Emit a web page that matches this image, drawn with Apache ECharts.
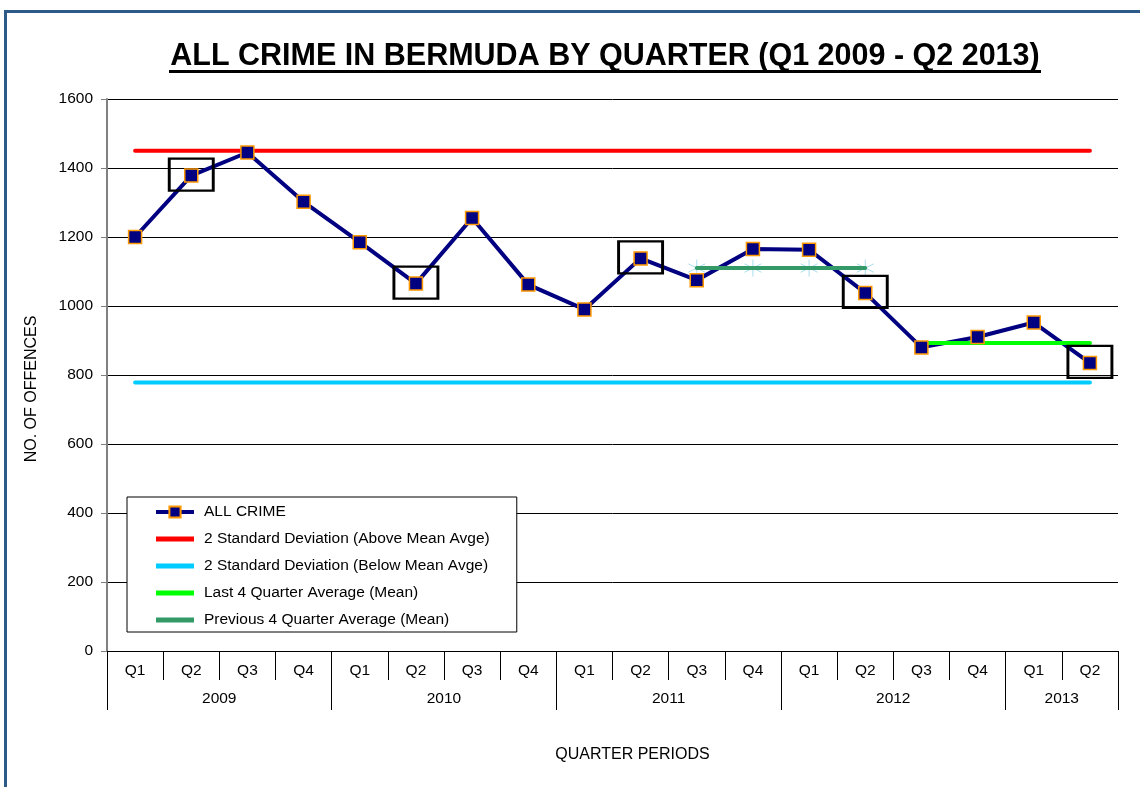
<!DOCTYPE html>
<html lang="en">
<head>
<meta charset="utf-8">
<script src="https://cdn.jsdelivr.net/npm/echarts@6/dist/echarts.min.js"></script>
<style>
    html, body { margin: 0; padding: 0; background: #fff; }
    #main { width: 1140px; height: 787px; }
</style>
</head>
<body>
<div id="main"></div>
<script>
    var FONT = '"Liberation Sans", Arial, sans-serif';

    // categories
    var quarters = ['Q1','Q2','Q3','Q4','Q1','Q2','Q3','Q4','Q1','Q2','Q3','Q4','Q1','Q2','Q3','Q4','Q1','Q2'];
    var years = ['2009','2009','2009','2009','2010','2010','2010','2010','2011','2011','2011','2011',
                 '2012','2012','2012','2012','2013','2013'];
    var yTicks = [0, 200, 400, 600, 800, 1000, 1200, 1400, 1600];

    // series values
    var allCrime = [1200, 1378, 1445, 1302, 1185, 1065, 1255, 1062, 990, 1138, 1075, 1165, 1163, 1038, 880, 910, 952, 835];
    var upperLimit = [1450, 1450, 1450, 1450, 1450, 1450, 1450, 1450, 1450, 1450, 1450, 1450, 1450, 1450, 1450, 1450, 1450, 1450];
    var lowerLimit = [778, 778, 778, 778, 778, 778, 778, 778, 778, 778, 778, 778, 778, 778, 778, 778, 778, 778];
    var lastAvg = [null, null, null, null, null, null, null, null, null, null, null, null, null, null, 893, 893, 893, 893];
    var prevAvg = [null, null, null, null, null, null, null, null, null, null, 1110, 1110, 1110, 1110, null, null, null, null];
    // Q2 points boxed in the original
    var flagged = [null, 1378, null, null, null, 1065, null, null, null, 1138, null, null, null, 1038, null, null, null, 835];

    var names = ['ALL CRIME',
                 '2 Standard Deviation (Above Mean Avge)',
                 '2 Standard Deviation (Below Mean Avge)',
                 'Last 4 Quarter Average (Mean)',
                 'Previous 4 Quarter Average (Mean)'];

    var barIcon = 'path://M0,0H38V5H0Z';

    function yearLabel(v, i) {
        var start = years.indexOf(v);
        var len = years.lastIndexOf(v) - start + 1;
        return i === start + Math.floor((len - 1) / 2) ? '{y|' + v + '}' : '';
    }

    var chart = echarts.init(document.getElementById('main'));

    var option = {
        animation: false,
        textStyle: { fontFamily: FONT },
        graphic: [
            { type: 'rect', silent: true, shape: { x: 5.5, y: 11.5, width: 1300, height: 1000 },
              style: { fill: 'none', stroke: '#2E5A8A', lineWidth: 3 } },
            { type: 'text', x: 605, y: 57, silent: true,
              style: { text: 'ALL CRIME IN BERMUDA BY QUARTER (Q1 2009 - Q2 2013)',
                       font: 'bold 30.5px ' + FONT, fill: '#000', align: 'center', verticalAlign: 'middle' } },
            { type: 'line', silent: true, shape: { x1: 169, y1: 71.5, x2: 1041, y2: 71.5 },
              style: { stroke: '#000', lineWidth: 3 } }
        ],
        grid: { left: 107, right: 22, top: 99, bottom: 136 },
        legend: {
            orient: 'vertical', left: 127, top: 497,
            padding: [7, 27, 4, 27],
            itemWidth: 38, itemHeight: 14, itemGap: 11,
            backgroundColor: '#fff', borderColor: '#000', borderWidth: 1,
            lineStyle: { width: 4 },
            textStyle: { fontFamily: FONT, fontSize: 15.5, color: '#000', padding: [0, 0, 0, 5] },
            data: [
                { name: names[0] },
                { name: names[1], icon: barIcon },
                { name: names[2], icon: barIcon },
                { name: names[3], icon: barIcon },
                { name: names[4], icon: barIcon }
            ]
        },
        xAxis: [{
            type: 'category',
            data: quarters,
            position: 'bottom',
            name: 'QUARTER PERIODS',
            nameLocation: 'middle',
            nameGap: 96,
            nameTextStyle: { fontFamily: FONT, fontSize: 16, color: '#000', padding: [0, 0, 0, 40] },
            axisLine: { show: true, lineStyle: { color: '#000', width: 1 } },
            axisTick: { show: true, interval: 0, length: 29, lineStyle: { color: '#000' } },
            axisLabel: { interval: 0, margin: 12, fontSize: 15.5, color: '#000', fontFamily: FONT },
            splitLine: { show: false }
        }, {
            type: 'category',
            data: years,
            position: 'bottom',
            axisLine: { show: false },
            axisTick: { show: true, length: 59, lineStyle: { color: '#000' },
                        interval: function (i) { return i === 0 || years[i] !== years[i - 1]; } },
            axisLabel: { interval: 0, margin: 40, fontSize: 15.5, color: '#000', fontFamily: FONT,
                         formatter: yearLabel,
                         rich: { y: { fontSize: 15.5, color: '#000', fontFamily: FONT, padding: [0, 0, 0, 56] } } },
            splitLine: { show: false }
        }],
        yAxis: {
            type: 'value',
            min: yTicks[0], max: yTicks[yTicks.length - 1], interval: 200,
            name: 'NO. OF OFFENCES',
            nameLocation: 'middle',
            nameGap: 67,
            nameTextStyle: { fontFamily: FONT, fontSize: 16, color: '#000', padding: [0, 28, 0, 0] },
            axisLine: { show: true, lineStyle: { color: '#808080', width: 2 } },
            axisTick: { show: true, length: 6, lineStyle: { color: '#808080' } },
            axisLabel: { margin: 14, fontSize: 15.5, color: '#000', fontFamily: FONT,
                         formatter: function (v) { return String(v); } },
            splitLine: { show: true, lineStyle: { color: '#000', width: 1 } }
        },
        series: [{
            name: names[0], type: 'line', data: allCrime,
            symbol: 'rect', symbolSize: 13,
            lineStyle: { color: '#000080', width: 4 },
            itemStyle: { color: '#000080', borderColor: '#FF9900', borderWidth: 1.5 }
        }, {
            name: names[1], type: 'line', data: upperLimit, symbol: 'none',
            lineStyle: { color: '#FF0000', width: 4, cap: 'round' }, itemStyle: { color: '#FF0000' }
        }, {
            name: names[2], type: 'line', data: lowerLimit, symbol: 'none',
            lineStyle: { color: '#00CCFF', width: 4, cap: 'round' }, itemStyle: { color: '#00CCFF' }
        }, {
            name: names[3], type: 'line', data: lastAvg, symbol: 'none',
            lineStyle: { color: '#00FF00', width: 4, cap: 'round' }, itemStyle: { color: '#00FF00' }
        }, {
            name: 'prevStars', type: 'scatter', data: prevAvg,
            symbol: 'path://M0,-8L0,8M-7,-4L7,4M-7,4L7,-4', symbolSize: 17,
            itemStyle: { color: 'rgba(0,0,0,0)', borderColor: '#A8DDEE', borderWidth: 1, opacity: 1 }
        }, {
            name: names[4], type: 'line', data: prevAvg, symbol: 'none',
            lineStyle: { color: '#339966', width: 4, cap: 'round' }, itemStyle: { color: '#339966' }
        }, {
            name: 'flagged', type: 'scatter', data: flagged,
            symbol: 'rect', symbolSize: [44, 32], symbolOffset: [0, -1],
            itemStyle: { color: 'rgba(0,0,0,0)', borderColor: '#000', borderWidth: 2.5, opacity: 1 },
            z: 5
        }]
    };

    chart.setOption(option);
</script>
</body>
</html>
